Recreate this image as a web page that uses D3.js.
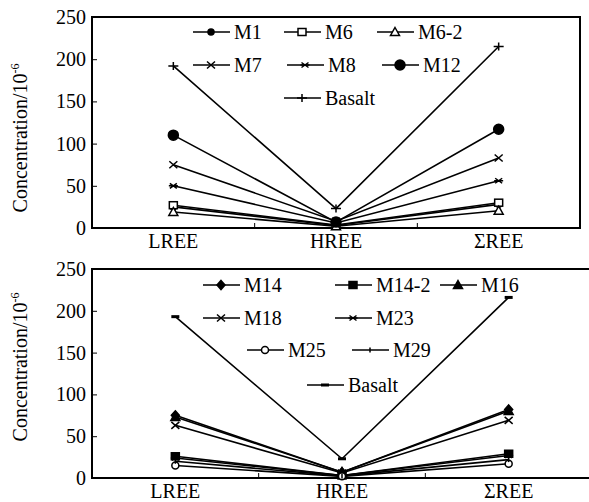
<!DOCTYPE html>
<html>
<head>
<meta charset="utf-8">
<script src="https://cdn.jsdelivr.net/npm/d3@7"></script>
<style>
  body { margin: 0; background: #fff; }
</style>
</head>
<body>
<div id="chart"></div>
<script>
// categories and tick labels
const categories = ["LREE", "HREE", "ΣREE"];
const yTicks = [0, 50, 100, 150, 200, 250];

// top panel series
const topNames = ["M1", "M6", "M6-2", "M7", "M8", "M12", "Basalt"];
const M1 = [25, 3, 28];
const M6 = [27, 3.5, 30];
const M6_2 = [19, 2, 20.5];
const M7 = [75, 8, 83];
const M8 = [50, 6, 56];
const M12 = [110, 7, 117];
const basaltTop = [192, 23, 215];

// bottom panel series
const bottomNames = ["M14", "M14-2", "M16", "M18", "M23", "M25", "M29", "Basalt"];
const M14 = [75, 7, 82];
const M14_2 = [26, 3, 29];
const M16 = [73, 7, 80];
const M18 = [63, 6, 69];
const M23 = [24, 3, 27];
const M25 = [15, 2, 17];
const M29 = [20, 2.5, 22];
const basaltBottom = [193, 23, 216];

const topSeries = [M1, M6, M6_2, M7, M8, M12, basaltTop];
const topMarks = ["dot", "squareOpen", "triOpen", "bowtie", "xstar", "bigDot", "plus"];
const bottomSeries = [M14, M14_2, M16, M18, M23, M25, M29, basaltBottom];
const bottomMarks = ["diamond", "squareFill", "triFill", "bowtie", "xstar", "circleOpen", "plusSmall", "dash"];

const FONT = '"Liberation Serif"';
const W = 589, H = 502;
const svg = d3.select("#chart").append("svg").attr("width", W).attr("height", H);

function marker(g, type, cx, cy) {
  const m = g.append("g").attr("transform", `translate(${cx},${cy})`)
    .attr("stroke", "#000").attr("stroke-width", 1.5).attr("fill", "none");
  if (type === "dot") m.append("circle").attr("r", 3).attr("fill", "#000");
  else if (type === "bigDot") m.append("circle").attr("r", 5).attr("fill", "#000");
  else if (type === "circleOpen") m.append("circle").attr("r", 3.5).attr("fill", "#fff");
  else if (type === "squareOpen") m.append("rect").attr("x", -4).attr("y", -3.5).attr("width", 8).attr("height", 7).attr("fill", "#fff");
  else if (type === "squareFill") m.append("rect").attr("x", -4).attr("y", -3.5).attr("width", 8).attr("height", 7).attr("fill", "#000");
  else if (type === "triOpen") m.append("path").attr("d", "M0,-4.5L4.5,3.5L-4.5,3.5Z").attr("fill", "#fff");
  else if (type === "triFill") m.append("path").attr("d", "M0,-4.5L4.5,3.5L-4.5,3.5Z").attr("fill", "#000");
  else if (type === "diamond") m.append("path").attr("d", "M0,-4.5L4,0L0,4.5L-4,0Z").attr("fill", "#000");
  else if (type === "bowtie") m.append("path").attr("d", "M-4,-3.5L4,3.5M-4,3.5L4,-3.5");
  else if (type === "xstar") m.append("path").attr("d", "M-3.5,-2.5L3.5,2.5M-3.5,2.5L3.5,-2.5M-4.5,0H4.5");
  else if (type === "plus") m.append("path").attr("d", "M0,-4V4M-5,0H5");
  else if (type === "plusSmall") m.append("path").attr("d", "M0,-2.5V2.5");
  else if (type === "dash") m.append("path").attr("d", "M-4,0H4").attr("stroke-width", 3);
}

function panel(p) {
  const x = d3.scaleBand().domain(categories).range([p.left, p.right]).paddingInner(0).paddingOuter(0);
  const y = d3.scaleLinear().domain([0, 250]).range([p.bottom, p.top]);
  const g = svg.append("g");

  // frame
  g.append("rect").attr("x", p.left).attr("y", p.top)
    .attr("width", p.right - p.left).attr("height", p.bottom - p.top)
    .attr("fill", "none").attr("stroke", "#000").attr("stroke-width", 2);

  // y axis
  const ya = g.append("g").attr("transform", `translate(${p.left},0)`)
    .call(d3.axisLeft(y).tickValues(yTicks).tickSize(-5).tickPadding(6))
    .attr("font-family", null).attr("font-size", null);
  ya.select(".domain").remove();
  ya.selectAll("text").attr("font-size", 20).style("font-family", FONT).attr("fill", "#000");
  ya.selectAll("line").attr("stroke", "#000");

  // x axis labels + inner boundary ticks
  const xa = g.append("g").attr("transform", `translate(0,${p.bottom})`)
    .call(d3.axisBottom(x).tickSize(0).tickPadding(6))
    .attr("font-family", null).attr("font-size", null);
  xa.select(".domain").remove();
  xa.selectAll("text").attr("font-size", 20).style("font-family", FONT).attr("fill", "#000");
  g.selectAll(".btick").data(categories.slice(1)).join("line")
    .attr("x1", d => x(d)).attr("x2", d => x(d))
    .attr("y1", p.bottom).attr("y2", p.bottom - 5)
    .attr("stroke", "#000").attr("stroke-width", 1);

  // y label
  g.append("text")
    .attr("transform", `translate(${p.labelX},${p.labelY}) rotate(-90)`)
    .attr("text-anchor", "middle").attr("font-size", 20).style("font-family", FONT)
    .html('Concentration/10<tspan font-size="12" dy="-8">-6</tspan>');

  // lines
  const line = d3.line().x((d, i) => x(categories[i]) + x.bandwidth() / 2).y(d => y(d));
  p.series.forEach(s => {
    g.append("path").attr("d", line(s)).attr("fill", "none")
      .attr("stroke", "#000").attr("stroke-width", 1.6);
  });
  p.series.forEach((s, k) => {
    s.forEach((v, i) => marker(g, p.marks[k], x(categories[i]) + x.bandwidth() / 2, y(v)));
  });

  // legend
  p.names.forEach((name, k) => {
    const [lx, ly] = p.legend[k];
    g.append("line").attr("x1", lx).attr("x2", lx + 37).attr("y1", ly).attr("y2", ly)
      .attr("stroke", "#000").attr("stroke-width", 1.6);
    marker(g, p.marks[k], lx + 18, ly);
    g.append("text").attr("x", lx + 41).attr("y", ly).attr("dy", "0.35em")
      .attr("font-size", 20).style("font-family", FONT).text(name);
  });
}

panel({
  left: 92, right: 580, top: 17, bottom: 228, labelX: 27, labelY: 138,
  series: topSeries, marks: topMarks, names: topNames,
  legend: [[193, 32], [284, 32], [377, 32], [193, 65], [287, 65], [382, 65], [284, 98]]
});

panel({
  left: 92, right: 592, top: 269, bottom: 478, labelX: 27, labelY: 367,
  series: bottomSeries, marks: bottomMarks, names: bottomNames,
  legend: [[203, 285], [335, 285], [440, 285], [203, 318], [335, 318], [247, 350], [352, 350], [307, 385]]
});
</script>
</body>
</html>
